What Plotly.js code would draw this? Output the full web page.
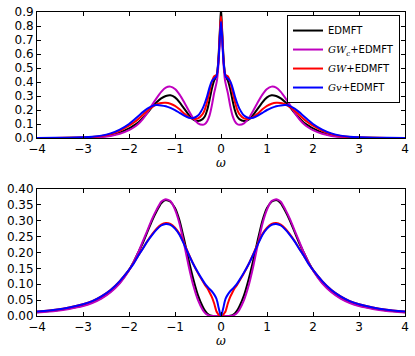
<!DOCTYPE html>
<html>
<head>
<meta charset="utf-8">
<script src="https://cdn.plot.ly/plotly-3.0.1.min.js"></script>
<style>
  body { margin: 0; background: #fff; }
  #chart { width: 415px; height: 356px; }
</style>
</head>
<body>
<div id="chart"></div>
<script>
// frequency grid, w >= 0 (curves are symmetric in w)
const wPos = [0, 0.02, 0.05, 0.08, 0.1, 0.15, 0.2, 0.25, 0.3, 0.35, 0.4, 0.5, 0.6, 0.7, 0.8, 0.9, 1.0,
  1.1, 1.2, 1.3, 1.4, 1.5, 1.6, 1.7, 1.8, 1.9, 2.0, 2.2, 2.4, 2.6, 2.8, 3.0, 3.3, 3.6, 4.0]

// top panel
const topEdmft = [0.93, 0.80, 0.60, 0.47, 0.44, 0.41, 0.35, 0.27, 0.20, 0.155, 0.135, 0.122, 0.132, 0.165, 0.21, 0.255, 0.29,
  0.305, 0.30, 0.283, 0.255, 0.22, 0.18, 0.143, 0.11, 0.088, 0.068, 0.038, 0.019, 0.009, 0.004, 0.002, 0.001, 0.0005, 0.0002]
const topGWc = [0.86, 0.76, 0.55, 0.43, 0.39, 0.32, 0.23, 0.16, 0.12, 0.10, 0.095, 0.105, 0.14, 0.195, 0.255, 0.31, 0.35,
  0.367, 0.36, 0.33, 0.285, 0.235, 0.18, 0.135, 0.10, 0.075, 0.056, 0.03, 0.015, 0.007, 0.003, 0.0015, 0.0007, 0.0003, 0.0001]
const topGW = [0.87, 0.78, 0.58, 0.47, 0.45, 0.44, 0.40, 0.33, 0.26, 0.205, 0.17, 0.14, 0.137, 0.15, 0.175, 0.205, 0.23,
  0.245, 0.252, 0.25, 0.24, 0.22, 0.195, 0.165, 0.135, 0.11, 0.088, 0.052, 0.028, 0.014, 0.007, 0.004, 0.0015, 0.0007, 0.0003]
const topGv = [0.83, 0.75, 0.57, 0.47, 0.44, 0.425, 0.405, 0.36, 0.30, 0.25, 0.21, 0.16, 0.143, 0.145, 0.16, 0.18, 0.20,
  0.215, 0.227, 0.233, 0.235, 0.228, 0.21, 0.185, 0.155, 0.127, 0.10, 0.06, 0.033, 0.017, 0.009, 0.005, 0.002, 0.001, 0.0005]

// bottom panel
const botEdmft = [0, 0, 0, 0, 0, 0, 0.001, 0.003, 0.008, 0.017, 0.03, 0.065, 0.115, 0.175, 0.24, 0.30, 0.34,
  0.36, 0.365, 0.355, 0.33, 0.30, 0.265, 0.23, 0.20, 0.17, 0.145, 0.105, 0.077, 0.057, 0.043, 0.033, 0.024, 0.017, 0.012]
const botGWc = [0, 0, 0, 0, 0, 0, 0, 0.001, 0.004, 0.01, 0.02, 0.05, 0.095, 0.155, 0.225, 0.29, 0.335,
  0.362, 0.368, 0.36, 0.335, 0.305, 0.27, 0.235, 0.20, 0.17, 0.143, 0.103, 0.075, 0.055, 0.041, 0.031, 0.022, 0.016, 0.011]
const botGW = [0, 0.001, 0.004, 0.01, 0.015, 0.04, 0.06, 0.075, 0.088, 0.098, 0.11, 0.135, 0.163, 0.195, 0.228, 0.258, 0.278,
  0.29, 0.293, 0.288, 0.275, 0.257, 0.236, 0.213, 0.19, 0.166, 0.145, 0.11, 0.082, 0.062, 0.047, 0.037, 0.027, 0.02, 0.014]
const botGv = [0, 0.008, 0.025, 0.045, 0.055, 0.068, 0.078, 0.085, 0.093, 0.102, 0.113, 0.137, 0.163, 0.193, 0.225, 0.255, 0.275,
  0.287, 0.29, 0.285, 0.272, 0.255, 0.235, 0.212, 0.19, 0.165, 0.145, 0.11, 0.082, 0.062, 0.047, 0.037, 0.027, 0.02, 0.014]

const names = [
  'EDMFT',
  '<span style="font-family:DejaVu Serif"><i>GW</i><sub><i>c</i></sub></span>+EDMFT',
  '<span style="font-family:DejaVu Serif"><i>GW</i></span>+EDMFT',
  '<span style="font-family:DejaVu Serif"><i>Gv</i></span>+EDMFT'
]
const colors = ['#000000', '#bf00bf', '#ff0000', '#0000ff']

function mirror(a){ return a.slice(1).reverse().concat(a) }
const omega = wPos.slice(1).reverse().map(v => -v).concat(wPos)

let traces = []
const topSets = [topEdmft, topGWc, topGW, topGv]
const botSets = [botEdmft, botGWc, botGW, botGv]
for(let i = 0; i < 4; i++){
  traces.push({
    x: omega, y: mirror(topSets[i]), name: names[i], type: 'scatter', mode: 'lines',
    line: {color: colors[i], width: 2, shape: 'spline', smoothing: 0.5},
    xaxis: 'x', yaxis: 'y'
  })
}
for(let i = 0; i < 4; i++){
  traces.push({
    x: omega, y: mirror(botSets[i]), name: names[i], type: 'scatter', mode: 'lines', showlegend: false,
    line: {color: colors[i], width: 2, shape: 'spline', smoothing: 0.5},
    xaxis: 'x2', yaxis: 'y2'
  })
}

const axisStyle = {
  showgrid: false, zeroline: false, showline: true, linecolor: '#000', linewidth: 1,
  mirror: 'ticks', ticks: 'inside', ticklen: 4, tickcolor: '#000',
  tickfont: {family: 'DejaVu Sans', size: 12, color: '#000'}
}
const wFont = {family: 'DejaVu Serif', size: 12, color: '#000'}

const layout = {
  width: 415, height: 356,
  margin: {l: 37, r: 10, t: 12, b: 40},
  paper_bgcolor: '#fff', plot_bgcolor: '#fff',
  showlegend: true,
  legend: {
    x: 0.9864, y: 0.99, xanchor: 'right', yanchor: 'top',
    bordercolor: '#000', borderwidth: 1, bgcolor: '#fff',
    font: {family: 'DejaVu Sans', size: 10, color: '#000'},
    tracegroupgap: 0
  },
  xaxis: Object.assign({}, axisStyle, {range: [-4, 4], dtick: 1, anchor: 'y'}),
  yaxis: Object.assign({}, axisStyle, {range: [0, 0.9], dtick: 0.1, tickformat: '.1f', domain: [0.5855, 1], anchor: 'x'}),
  xaxis2: Object.assign({}, axisStyle, {range: [-4, 4], dtick: 1, anchor: 'y2'}),
  yaxis2: Object.assign({}, axisStyle, {range: [0, 0.4], dtick: 0.05, tickformat: '.2f', domain: [0, 0.4178], anchor: 'x2'}),
  annotations: [
    {text: '<i>ω</i>', xref: 'x', x: 0, yref: 'paper', y: 0.503, yanchor: 'middle', showarrow: false, font: wFont},
    {text: '<i>ω</i>', xref: 'x2', x: 0, yref: 'paper', y: -0.082, yanchor: 'middle', showarrow: false, font: wFont}
  ]
}

Plotly.newPlot('chart', traces, layout, {staticPlot: true})
</script>
</body>
</html>
